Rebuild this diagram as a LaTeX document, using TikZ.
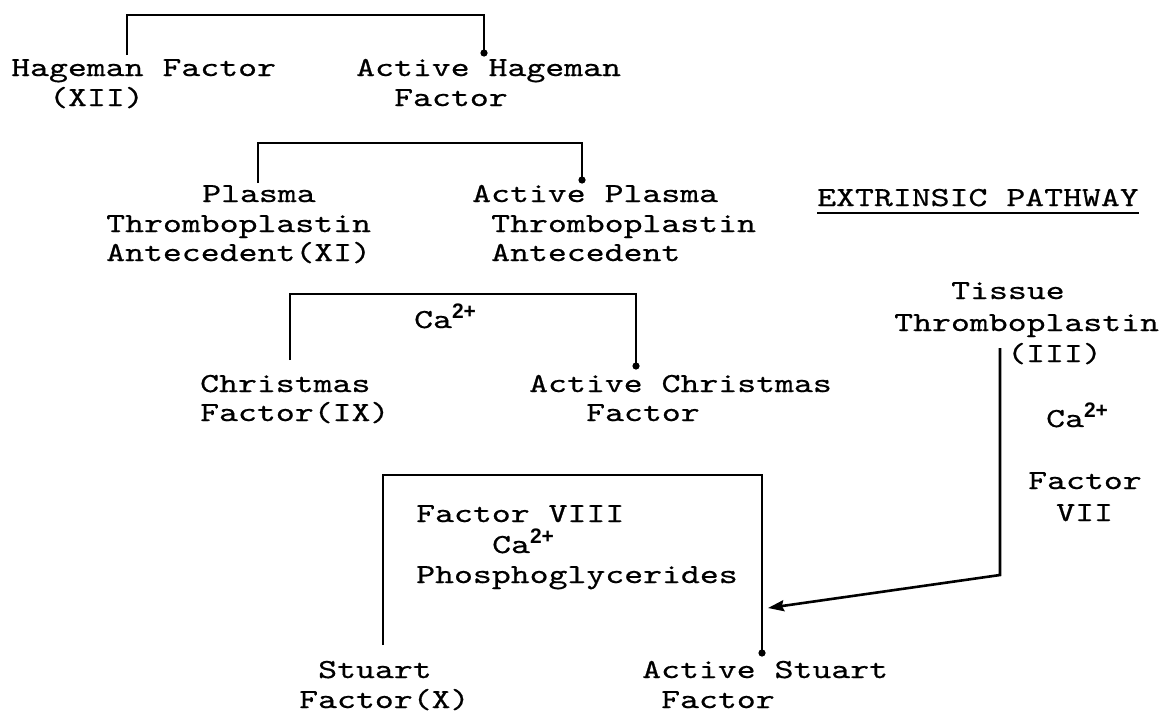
\documentclass[tikz,border=0pt]{standalone}
\usepackage{fontspec}
\newfontfamily\tw{lmmono10-regular.otf}[FakeStretch=1.31,FakeBold=0.6]
\newfontfamily\supf{Liberation Sans}
\usetikzlibrary{arrows.meta}
\newcommand{\cion}{Ca\raisebox{10pt}{\supf\bfseries\fontsize{21}{21}\selectfont 2+}}
\begin{document}
\begin{tikzpicture}[x=1pt,y=-1pt,
  txt/.style={anchor=base west, inner sep=0pt, font=\tw\fontsize{27.5}{27.5}\selectfont},
  conn/.style={line width=2.6pt, line join=miter, line cap=butt},
  tip/.style={-{Stealth[length=16pt,width=11pt,inset=2pt]}}]
\useasboundingbox[fill=white] (0,0) rectangle (1166,713);

% ---- Hageman ----
\node[txt] (hfA) at (11,76) {Hageman Factor};
\node[txt] (hfB) at (49,106) {(XII)};
\node[txt] (ahfA) at (356,76) {Active Hageman};
\node[txt] (ahfB) at (394,106) {Factor};
\coordinate (b1s) at (127,55);
\coordinate (b1e) at (484,53);
\draw[conn] (b1s) -- ++(0,-40) -| (b1e);
\fill (b1e) circle (3.6pt);

% ---- Plasma Thromboplastin Antecedent ----
\node[txt] (ptaA) at (202,202) {Plasma};
\node[txt] (ptaB) at (106,232) {Thromboplastin};
\node[txt] (ptaC) at (106,261) {Antecedent(XI)};
\node[txt] (aptaA) at (472,202) {Active Plasma};
\node[txt] (aptaB) at (491,232) {Thromboplastin};
\node[txt] (aptaC) at (491,261) {Antecedent};
\coordinate (b2s) at (258,183);
\coordinate (b2e) at (582,180);
\draw[conn] (b2s) -- ++(0,-40) -| (b2e);
\fill (b2e) circle (3.6pt);

% ---- Christmas ----
\node[txt] (cfA) at (200,392) {Christmas};
\node[txt] (cfB) at (200,421) {Factor(IX)};
\node[txt] (acfA) at (529,392) {Active Christmas};
\node[txt] (acfB) at (586,421) {Factor};
\coordinate (b3s) at (290,360);
\coordinate (b3e) at (636,366);
\draw[conn] (b3s) -- ++(0,-66) -| (b3e);
\fill (b3e) circle (3.6pt);
\node[txt] (ca1) at (414,328) {\cion};

% ---- Extrinsic pathway ----
\node[txt] (ext) at (817,206) {EXTRINSIC PATHWAY};
\draw[line width=2pt] ([yshift=-7pt]ext.base west) -- ([yshift=-7pt]ext.base east);
\node[txt] (ttA) at (951,299) {Tissue};
\node[txt] (ttB) at (894,331) {Thromboplastin};
\node[txt] (ttC) at (1007,362) {(III)};
\node[txt] (ca2) at (1046,427) {\cion};
\node[txt] (f7A) at (1028,489) {Factor};
\node[txt] (f7B) at (1056,521) {VII};

% ---- Stuart ----
\node[txt] (fviii) at (416,522) {Factor VIII};
\node[txt] (ca3) at (492,553) {\cion};
\node[txt] (phos) at (416,583) {Phosphoglycerides};
\node[txt] (sfA) at (318,678) {Stuart};
\node[txt] (sfB) at (299,708) {Factor(X)};
\node[txt] (asfA) at (642,678) {Active Stuart};
\node[txt] (asfB) at (661,708) {Factor};
\coordinate (b4s) at (383,645);
\coordinate (b4e) at (762,653);
\draw[conn] (b4s) -- ++(0,-170) -| (b4e);
\fill (b4e) circle (3.6pt);

% ---- extrinsic arrow ----
\coordinate (ex1) at (1000,348);
\coordinate (ex2) at (1000,575);
\coordinate (ex3) at (768,608);
\draw[conn,tip] (ex1) -- (ex2) -- (ex3);
\end{tikzpicture}
\end{document}
